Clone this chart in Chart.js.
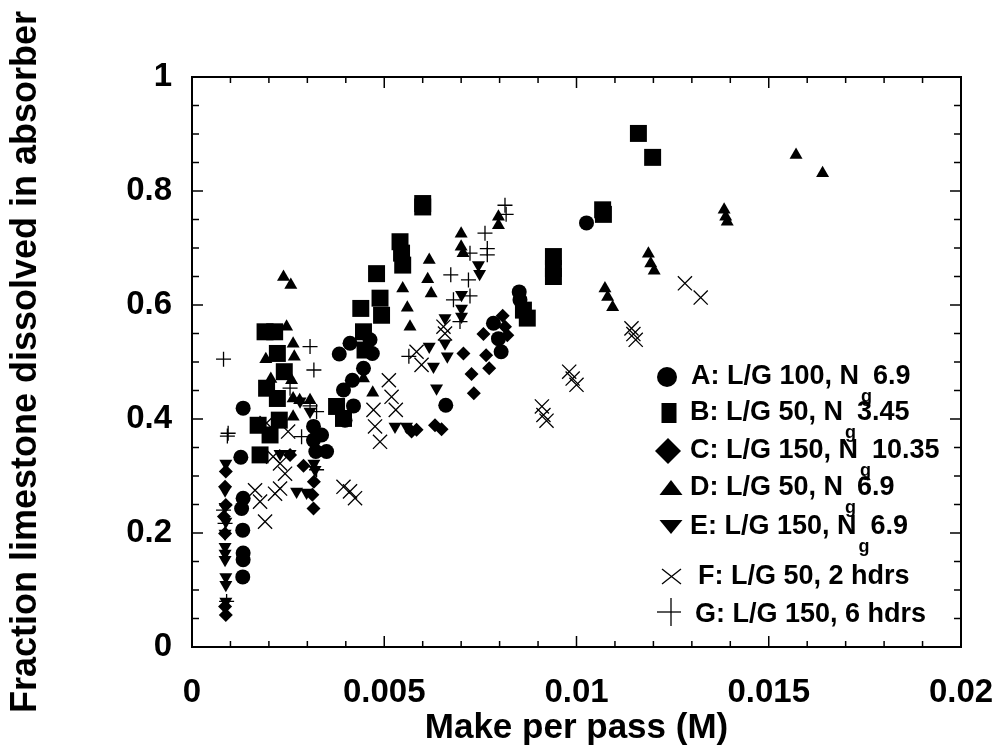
<!DOCTYPE html>
<html>
<head>
<meta charset="utf-8">
<script src="https://cdn.jsdelivr.net/npm/chart.js@4.4.0/dist/chart.umd.min.js"></script>
<style>
  html, body { margin: 0; padding: 0; background: #fff; }
</style>
</head>
<body>
<canvas id="chart" width="1000" height="749"></canvas>
<script>
// [make per pass (M), fraction dissolved]
const seriesA = [
  [0.00133, 0.419], [0.00127, 0.333], [0.00133, 0.261], [0.00129, 0.243], [0.00132, 0.205],
  [0.00133, 0.165], [0.00133, 0.153], [0.00132, 0.123],
  [0.00316, 0.387], [0.00337, 0.372], [0.00316, 0.363], [0.0035, 0.343], [0.00322, 0.343],
  [0.00383, 0.514], [0.00411, 0.533], [0.00463, 0.539], [0.00469, 0.515], [0.00446, 0.489],
  [0.00417, 0.468], [0.00394, 0.451], [0.0042, 0.423], [0.00398, 0.398],
  [0.0066, 0.424], [0.00784, 0.568], [0.00797, 0.541], [0.00804, 0.518],
  [0.00851, 0.623], [0.00853, 0.609], [0.01026, 0.744]
];
const seriesB = [
  [0.0019, 0.553], [0.00215, 0.553], [0.00222, 0.515], [0.0024, 0.483], [0.00194, 0.454],
  [0.00222, 0.436], [0.00172, 0.389], [0.00203, 0.372], [0.00177, 0.337], [0.00227, 0.398],
  [0.00376, 0.422], [0.00394, 0.401], [0.00446, 0.553], [0.0045, 0.521], [0.00439, 0.594],
  [0.00493, 0.582], [0.00489, 0.612], [0.0048, 0.655], [0.00541, 0.711], [0.00545, 0.691],
  [0.00548, 0.67], [0.006, 0.772], [0.006, 0.778], [0.00862, 0.591], [0.00872, 0.577],
  [0.0094, 0.685], [0.0094, 0.664], [0.0094, 0.65], [0.01068, 0.767], [0.0107, 0.759],
  [0.01161, 0.901], [0.01198, 0.859]
];
const seriesC = [
  [0.00088, 0.308], [0.00086, 0.281], [0.00088, 0.249], [0.00083, 0.229], [0.00086, 0.199],
  [0.00086, 0.071], [0.00088, 0.056],
  [0.00255, 0.337], [0.0029, 0.318], [0.00317, 0.29], [0.00313, 0.267], [0.00316, 0.243],
  [0.00571, 0.378], [0.00584, 0.381], [0.00632, 0.389], [0.00649, 0.382],
  [0.00706, 0.515], [0.00727, 0.479], [0.00733, 0.445], [0.00758, 0.549], [0.00765, 0.512],
  [0.00773, 0.489], [0.00808, 0.581], [0.00814, 0.562], [0.0082, 0.547]
];
const seriesD = [
  [0.00238, 0.649], [0.00257, 0.635], [0.00246, 0.562], [0.00263, 0.532], [0.00192, 0.505],
  [0.00266, 0.509], [0.00205, 0.47], [0.00259, 0.468], [0.00263, 0.436], [0.00263, 0.404],
  [0.00307, 0.433], [0.0028, 0.433], [0.00446, 0.471], [0.0047, 0.446],
  [0.00548, 0.629], [0.0056, 0.595], [0.00567, 0.562], [0.00617, 0.679], [0.00613, 0.645],
  [0.00622, 0.62], [0.007, 0.725], [0.007, 0.702], [0.00705, 0.691], [0.00797, 0.755],
  [0.00797, 0.74], [0.01074, 0.629], [0.01081, 0.614], [0.01094, 0.596], [0.01187, 0.69],
  [0.01193, 0.673], [0.01202, 0.66], [0.01384, 0.767], [0.01388, 0.755], [0.01392, 0.746],
  [0.01571, 0.863], [0.0164, 0.831]
];
const seriesE = [
  [0.00088, 0.322], [0.00086, 0.275], [0.00086, 0.246], [0.00088, 0.22], [0.00086, 0.199],
  [0.00086, 0.176], [0.00086, 0.164], [0.00086, 0.153], [0.00088, 0.123], [0.00088, 0.109],
  [0.00088, 0.08], [0.00229, 0.339], [0.00255, 0.339], [0.00272, 0.273], [0.00298, 0.271],
  [0.00317, 0.322], [0.0032, 0.311], [0.00307, 0.413], [0.00281, 0.431],
  [0.00528, 0.387], [0.00558, 0.387], [0.00636, 0.454], [0.00628, 0.492], [0.00617, 0.527],
  [0.00664, 0.51], [0.00658, 0.533], [0.00658, 0.577], [0.00701, 0.618], [0.00701, 0.594],
  [0.00701, 0.58], [0.00745, 0.67], [0.00748, 0.655]
];
const seriesF = [
  [0.00194, 0.393], [0.0025, 0.378], [0.00211, 0.334], [0.00229, 0.322], [0.00242, 0.304],
  [0.00164, 0.275], [0.00177, 0.255], [0.00216, 0.269], [0.00229, 0.278], [0.0019, 0.22],
  [0.00394, 0.281], [0.00411, 0.273], [0.00424, 0.261], [0.00472, 0.416], [0.00476, 0.387],
  [0.00489, 0.36], [0.00512, 0.468], [0.00519, 0.439], [0.0053, 0.416], [0.00584, 0.518],
  [0.00597, 0.495], [0.00654, 0.562], [0.00658, 0.55], [0.0091, 0.422], [0.00914, 0.407],
  [0.00922, 0.397], [0.00981, 0.483], [0.0099, 0.471], [0.01, 0.46], [0.01143, 0.559],
  [0.01148, 0.549], [0.01154, 0.539], [0.01282, 0.638], [0.01323, 0.613]
];
const seriesG = [
  [0.00082, 0.505], [0.00094, 0.375], [0.00092, 0.37], [0.00082, 0.24], [0.00086, 0.217],
  [0.0009, 0.08], [0.00307, 0.527], [0.00317, 0.486], [0.00307, 0.423], [0.00324, 0.413],
  [0.00285, 0.369], [0.00255, 0.454], [0.00324, 0.311], [0.00564, 0.51], [0.0068, 0.609],
  [0.00673, 0.653], [0.00697, 0.571], [0.00719, 0.644], [0.00723, 0.616], [0.00723, 0.691],
  [0.00762, 0.726], [0.00768, 0.699], [0.00768, 0.688], [0.00814, 0.775], [0.00817, 0.759]
];

const seriesLabels = ['A: L/G 100, N', 'B: L/G 50, N', 'C: L/G 150, N', 'D: L/G 50, N',
  'E: L/G 150, N', 'F: L/G 50, 2 hdrs', 'G: L/G 150, 6 hdrs'];
const ngValues = ['6.9', '3.45', '10.35', '6.9', '6.9', null, null];
const xTickLabels = ['0', '0.005', '0.01', '0.015', '0.02'];
const yTickLabels = ['0', '0.2', '0.4', '0.6', '0.8', '1'];

const FONT = "'Liberation Sans', Arial, Helvetica, sans-serif";

const toPoints = arr => arr.map(p => ({ x: p[0], y: p[1] }));

const markerStyles = [
  { pointStyle: 'circle', radius: 7.5, rotation: 0 },
  { pointStyle: 'rect', radius: 12, rotation: 0 },
  { pointStyle: 'rectRot', radius: 7, rotation: 0 },
  { pointStyle: 'triangle', radius: 7.5, rotation: 0 },
  { pointStyle: 'triangle', radius: 7.5, rotation: 180 },
  { pointStyle: 'crossRot', radius: 10, rotation: 0 },
  { pointStyle: 'cross', radius: 7.5, rotation: 0 }
];

const allSeries = [seriesA, seriesB, seriesC, seriesD, seriesE, seriesF, seriesG];

const datasets = allSeries.map((s, i) => ({
  label: seriesLabels[i] + (ngValues[i] ? 'g ' + ngValues[i] : ''),
  data: toPoints(s),
  pointStyle: markerStyles[i].pointStyle,
  pointRadius: markerStyles[i].radius,
  pointRotation: markerStyles[i].rotation,
  pointBackgroundColor: '#000',
  pointBorderColor: '#000',
  pointBorderWidth: i >= 5 ? 1.3 : 0,
  showLine: false
}));

// box with inward ticks on all four sides, plus the hand-made legend
const frameAndLegend = {
  id: 'frameAndLegend',
  afterDraw(chart) {
    const ctx = chart.ctx;
    const { left, right, top, bottom } = chart.chartArea;
    const xs = chart.scales.x, ys = chart.scales.y;
    const seg = (x1, y1, x2, y2) => { ctx.beginPath(); ctx.moveTo(x1, y1); ctx.lineTo(x2, y2); ctx.stroke(); };

    ctx.save();
    ctx.strokeStyle = '#000';
    ctx.lineWidth = 2;
    ctx.strokeRect(left, top, right - left, bottom - top);
    ctx.lineWidth = 1.5;
    for (let i = 1; i < 20; i++) {
      const px = xs.getPixelForValue(i * 0.001);
      const len = i % 5 === 0 ? 11 : 6;
      seg(px, bottom, px, bottom - len);
      seg(px, top, px, top + len);
    }
    for (let i = 1; i < 20; i++) {
      const py = ys.getPixelForValue(i * 0.05);
      const len = i % 4 === 0 ? 11 : 7;
      seg(left, py, left + len, py);
      seg(right, py, right - len, py);
    }

    // legend
    const rowY = [377, 413, 451, 488, 527, 577, 615];
    const textX = [691, 690, 690, 690, 690, 698, 695];
    const mx = 669;
    ctx.fillStyle = '#000';
    ctx.lineWidth = 1.3;
    rowY.forEach((y, i) => {
      ctx.beginPath();
      if (i === 0) { ctx.arc(mx - 2, y, 10, 0, Math.PI * 2); ctx.fill(); }
      else if (i === 1) { ctx.fillRect(mx - 7.5, y - 10, 15, 20); }
      else if (i === 2) {
        ctx.moveTo(mx - 1, y - 13); ctx.lineTo(mx + 12, y); ctx.lineTo(mx - 1, y + 13); ctx.lineTo(mx - 14, y);
        ctx.closePath(); ctx.fill();
      }
      else if (i === 3) {
        ctx.moveTo(mx + 2, y - 8); ctx.lineTo(mx + 13.5, y + 7); ctx.lineTo(mx - 9.5, y + 7);
        ctx.closePath(); ctx.fill();
      }
      else if (i === 4) {
        ctx.moveTo(mx + 2, y + 7); ctx.lineTo(mx + 13.5, y - 7); ctx.lineTo(mx - 9.5, y - 7);
        ctx.closePath(); ctx.fill();
      }
      else if (i === 5) {
        seg(mx - 7, y - 8, mx + 12, y + 7);
        seg(mx - 7, y + 7, mx + 12, y - 8);
      }
      else {
        seg(mx - 12, y - 3, mx + 12, y - 3);
        seg(mx + 2, y - 17, mx + 2, y + 11);
      }

      ctx.font = 'bold 27px ' + FONT;
      ctx.textBaseline = 'middle';
      ctx.textAlign = 'left';
      ctx.fillText(seriesLabels[i], textX[i], y);
      if (ngValues[i]) {
        const w = ctx.measureText(seriesLabels[i]).width;
        ctx.fillText(ngValues[i], textX[i] + w + 14, y);
        ctx.font = 'bold 18px ' + FONT;
        ctx.fillText('g', textX[i] + w + 2, y + 20);
      }
    });
    ctx.restore();
  }
};

new Chart(document.getElementById('chart'), {
  type: 'scatter',
  data: { datasets },
  options: {
    responsive: false,
    animation: false,
    devicePixelRatio: 1,
    layout: { padding: { top: 77, right: 39, bottom: 0, left: 0 } },
    plugins: { legend: { display: false }, tooltip: { enabled: false } },
    scales: {
      x: {
        type: 'linear',
        min: 0,
        max: 0.02,
        grid: { display: false, drawTicks: false },
        border: { display: false },
        ticks: {
          stepSize: 0.005,
          autoSkip: false,
          maxRotation: 0,
          padding: 26,
          color: '#000',
          font: { family: FONT, size: 33, weight: 'bold' },
          callback: (v, i) => xTickLabels[i]
        },
        title: {
          display: true,
          text: 'Make per pass (M)',
          color: '#000',
          padding: { top: 0, bottom: 0 },
          font: { family: FONT, size: 35, weight: 'bold' }
        },
        afterFit: s => {
          s.height = 102;
          s.paddingLeft = 0;
          s.paddingRight = 0;
        }
      },
      y: {
        type: 'linear',
        min: 0,
        max: 1,
        grid: { display: false, drawTicks: false },
        border: { display: false },
        ticks: {
          stepSize: 0.2,
          padding: 20,
          color: '#000',
          font: { family: FONT, size: 33, weight: 'bold' },
          callback: (v, i) => yTickLabels[i]
        },
        title: {
          display: true,
          text: 'Fraction limestone dissolved in absorber',
          color: '#000',
          padding: { top: 4, bottom: 0 },
          font: { family: FONT, size: 36, weight: 'bold' }
        },
        afterFit: s => {
          s.width = 192;
          s.paddingTop = 0;
          s.paddingBottom = 0;
        }
      }
    }
  },
  plugins: [frameAndLegend]
});
</script>
</body>
</html>
